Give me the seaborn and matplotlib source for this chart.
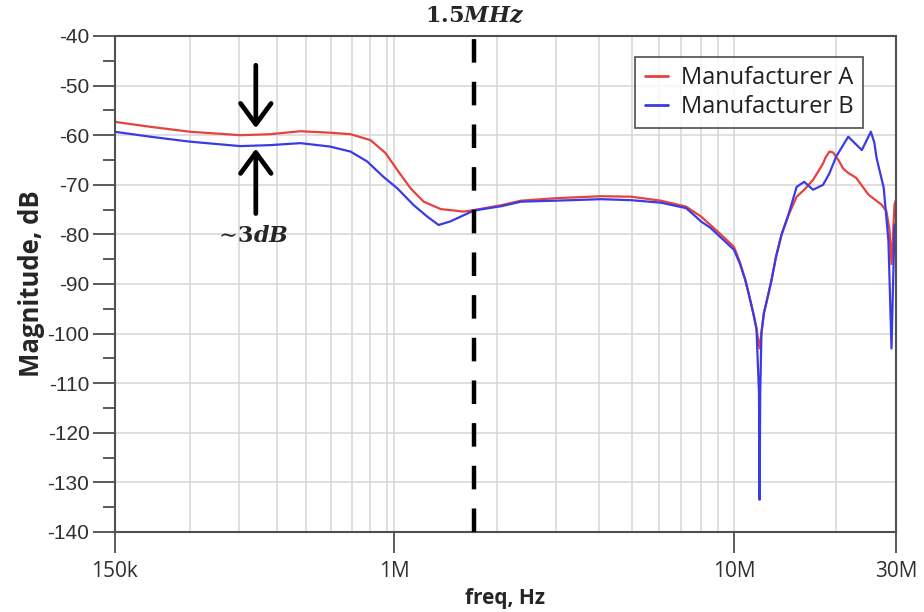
import numpy as np
import pandas as pd
import seaborn as sns
from matplotlib import pyplot as plt
from matplotlib.ticker import FixedLocator, NullFormatter, MultipleLocator


# ===== data =====
freq_a = [150e3, 191e3, 250e3, 352e3, 431e3, 529e3, 648e3, 743e3, 851e3, 942e3,
          1.02e6, 1.116e6, 1.22e6, 1.37e6, 1.6e6, 1.713e6, 2.07e6, 2.36e6, 2.99e6,
          4.06e6, 4.98e6, 6.09e6, 7.23e6, 8.0e6, 8.98e6, 10.0e6, 10.4e6, 10.8e6,
          11.1e6, 11.4e6, 11.65e6, 11.9e6, 12.05e6, 12.25e6, 12.6e6, 12.9e6, 13.3e6,
          13.8e6, 14.5e6, 15.3e6, 16.1e6, 17.1e6, 18.3e6, 18.6e6, 19.1e6, 19.6e6,
          20.3e6, 21.0e6, 21.7e6, 22.9e6, 24.0e6, 24.9e6, 27.2e6, 28.1e6, 28.7e6,
          29.1e6, 29.7e6, 30.0e6]
mag_a = [-57.3, -58.3, -59.3, -60.0, -59.8, -59.2, -59.5, -59.8, -61.0, -63.6,
         -67.0, -70.7, -73.4, -74.9, -75.4, -75.1, -74.1, -73.2, -72.7,
         -72.3, -72.4, -73.2, -74.4, -76.4, -79.5, -82.5, -85.5, -89.2,
         -92.5, -95.9, -99.0, -103.0, -99.8, -95.9, -92.3, -89.2, -84.5,
         -80.1, -76.0, -72.4, -71.0, -69.0, -65.7, -64.5, -63.3, -63.5,
         -65.0, -66.8, -67.6, -68.6, -70.5, -72.0, -74.0, -75.3, -79.0,
         -86.0, -74.0, -73.0]

freq_b = [150e3, 191e3, 250e3, 352e3, 431e3, 529e3, 648e3, 743e3, 832e3, 929e3,
          1.02e6, 1.14e6, 1.25e6, 1.35e6, 1.46e6, 1.713e6, 2.07e6, 2.36e6, 2.99e6,
          4.06e6, 4.98e6, 6.09e6, 7.23e6, 7.6e6, 8.0e6, 8.5e6, 8.98e6, 10.0e6,
          10.4e6, 10.8e6, 11.1e6, 11.4e6, 11.65e6, 11.85e6, 11.9e6, 11.95e6, 12.05e6,
          12.25e6, 12.6e6, 12.9e6, 13.3e6, 13.8e6, 14.5e6, 15.3e6, 16.1e6, 17.1e6,
          18.3e6, 19.1e6, 20.0e6, 21.7e6, 22.6e6, 23.8e6, 24.6e6, 25.3e6, 25.9e6,
          26.3e6, 27.6e6, 28.5e6, 29.1e6, 29.7e6, 30.0e6]
mag_b = [-59.3, -60.3, -61.3, -62.2, -62.0, -61.6, -62.3, -63.3, -65.3, -68.4,
         -70.7, -74.1, -76.4, -78.1, -77.4, -75.2, -74.3, -73.4, -73.2,
         -72.9, -73.1, -73.6, -74.7, -76.0, -77.4, -78.6, -80.1, -83.1,
         -85.8, -89.2, -92.5, -95.9, -99.0, -112.0, -133.5, -112.0, -99.8,
         -95.9, -92.3, -89.2, -84.5, -80.1, -75.8, -70.4, -69.4, -71.0,
         -70.0, -67.7, -64.3, -60.3, -61.5, -63.0, -61.0, -59.3, -61.5,
         -64.6, -70.6, -81.3, -103.0, -78.0, -78.0]

makers = ["Manufacturer A", "Manufacturer B"]
colors = ["#e8413e", "#3b3be6"]

x_ticks = [150e3, 1e6, 10e6, 30e6]
x_tick_labels = ["150k", "1M", "10M", "30M"]
# the simulator grid: 250k..950k in 100k steps, then the usual decade lines
x_grid = [250e3, 350e3, 450e3, 550e3, 650e3, 750e3, 850e3, 950e3,
          2e6, 3e6, 4e6, 5e6, 6e6, 7e6, 8e6, 9e6, 20e6]
y_ticks = list(range(-140, -39, 10))

# the dashed marker sits here in the picture (labelled 1.5 MHz)
marker_freq = 1.72e6
gap_freq = 391e3


df = pd.concat([
    pd.DataFrame({"freq": freq_a, "mag": mag_a, "maker": makers[0]}),
    pd.DataFrame({"freq": freq_b, "mag": mag_b, "maker": makers[1]}),
])

sns.set_theme(style="white")
plt.rcParams['font.family'] = ['Open Sans', 'DejaVu Sans']
plt.rcParams['axes.unicode_minus'] = False
plt.rcParams['mathtext.fontset'] = 'dejavuserif'

fig = plt.figure(figsize=(9.24, 6.12), dpi=100)
ax = fig.add_subplot(111)
fig.subplots_adjust(left=114.5 / 924, right=896 / 924, top=1 - 36 / 612, bottom=1 - 532 / 612)

sns.lineplot(data=df, x="freq", y="mag", hue="maker", hue_order=makers,
             palette=colors, lw=1.6, estimator=None, sort=False, ax=ax)

ax.set_xscale("log")
ax.set_xlim(150e3, 30e6)
ax.set_ylim(-140, -40)

# ticks
ax.xaxis.set_major_locator(FixedLocator(x_ticks))
ax.set_xticklabels(x_tick_labels)
ax.xaxis.set_minor_locator(FixedLocator(x_grid))
ax.xaxis.set_minor_formatter(NullFormatter())
ax.set_yticks(y_ticks)
ax.yaxis.set_minor_locator(MultipleLocator(5))

ax.tick_params(axis="x", which="major", direction="out", length=15, width=1.2,
               color="#404040", labelsize=15, pad=6, bottom=True)
ax.tick_params(axis="x", which="minor", length=0, bottom=True)
ax.tick_params(axis="y", which="major", direction="out", length=16, width=1.2,
               color="#404040", labelsize=15, pad=2, left=True)
ax.tick_params(axis="y", which="minor", direction="out", length=8.5, width=1.2,
               color="#404040", left=True)
for lab in ax.get_yticklabels():
    lab.set_fontfamily("Liberation Sans")
    lab.set_color("#303030")
for lab in ax.get_xticklabels():
    lab.set_color("#303030")

# grid
ax.grid(True, which="major", axis="both", color="#d6d6d6", lw=1.1)
ax.grid(True, which="minor", axis="x", color="#d6d6d6", lw=1.1)
ax.set_axisbelow(True)

for side in ["left", "bottom", "top", "right"]:
    ax.spines[side].set_color("#505050")
    ax.spines[side].set_linewidth(1.5)

ax.set_xlabel("freq, Hz", fontsize=15, fontweight="bold", labelpad=4)
ax.set_ylabel("Magnitude, dB", fontsize=18.5, fontweight="bold", labelpad=2)

# dashed marker line
ax.axvline(marker_freq, color="black", lw=3.2, linestyle=(0, (5.3, 4.3)), zorder=5)
ax.text(marker_freq, -36, r"$\mathbf{1.5}\mathbfit{MHz}$", ha="center", va="center",
        fontsize=16, clip_on=False)

# ~3dB arrows
arrow = dict(arrowstyle="->,head_length=0.75,head_width=0.55", lw=3.4, color="black",
             mutation_scale=20, shrinkA=0, shrinkB=0)
ax.annotate("", xy=(gap_freq, -58.6), xytext=(gap_freq, -45.9), arrowprops=arrow)
ax.annotate("", xy=(gap_freq, -62.7), xytext=(gap_freq, -75.8), arrowprops=arrow)
ax.text(gap_freq * 0.97, -80.5, r"$\sim\!\mathbf{3}\mathbfit{dB}$", ha="center", va="center",
        fontsize=16)

leg = ax.legend(loc="upper right", bbox_to_anchor=(0.958, 0.958), frameon=True,
                fancybox=False, fontsize=17, handlelength=1.0, handletextpad=0.55,
                borderpad=0.4, labelspacing=0.2, borderaxespad=0)
leg.get_frame().set_edgecolor("#333333")
leg.get_frame().set_linewidth(1.3)
for line in leg.get_lines():
    line.set_linewidth(2)
for txt in leg.get_texts():
    txt.set_color("#202020")

fig.savefig("out.png", dpi=100, facecolor="white")
